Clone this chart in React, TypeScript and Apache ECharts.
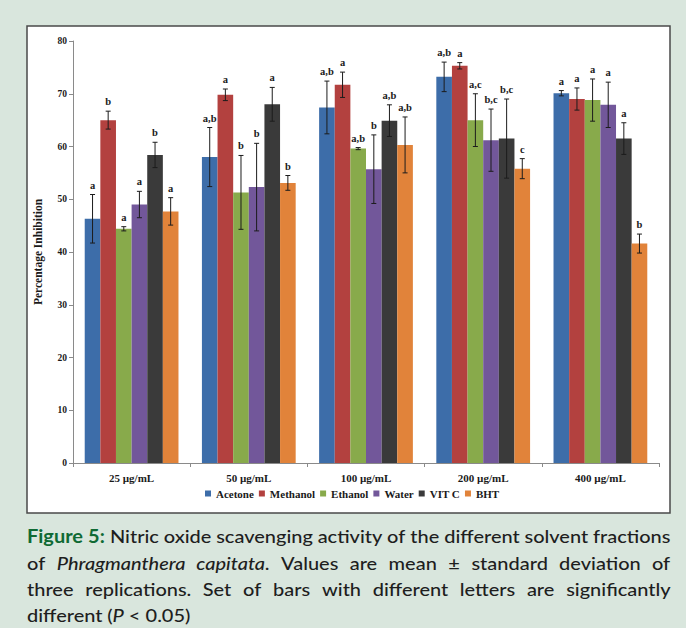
import React, { useEffect, useRef } from "react";
import * as echarts from "echarts";

const categories = ["25 µg/mL", "50 µg/mL", "100 µg/mL", "200 µg/mL", "400 µg/mL"];
const seriesNames = ["Acetone", "Methanol", "Ethanol", "Water", "VIT C", "BHT"];
const seriesColors = ["#3d6da9", "#b3413f", "#88aa4b", "#72579a", "#3a3a3a", "#e1833a"];

const acetone = [46.3, 58.0, 67.4, 73.2, 70.1];
const methanol = [65.0, 69.8, 71.7, 75.3, 69.0];
const ethanol = [44.4, 51.3, 59.6, 65.0, 68.8];
const water = [49.0, 52.3, 55.7, 61.2, 67.9];
const vitc = [58.4, 68.0, 64.9, 61.5, 61.5];
const bht = [47.7, 53.1, 60.3, 55.8, 41.6];

const acetoneSd = [4.6, 5.6, 5.0, 2.8, 0.5];
const methanolSd = [1.7, 1.1, 2.4, 0.6, 2.1];
const ethanolSd = [0.4, 7.0, 0.2, 5.0, 4.0];
const waterSd = [2.5, 8.3, 6.5, 5.9, 4.3];
const vitcSd = [2.4, 3.2, 3.0, 7.5, 3.0];
const bhtSd = [2.6, 1.4, 5.3, 1.9, 1.8];

const acetoneLetters = ["a", "a,b", "a,b", "a,b", "a"];
const methanolLetters = ["b", "a", "a", "a", "a"];
const ethanolLetters = ["a", "b", "a,b", "a,c", "a"];
const waterLetters = ["a", "b", "b", "b,c", "a"];
const vitcLetters = ["b", "a", "a,b", "b,c", "a"];
const bhtLetters = ["a", "b", "a,b", "c", "b"];

const yTicks = { min: 0, max: 80, interval: 10 };

const captionLines = [
  ["!Figure", "!5:", "Nitric", "oxide", "scavenging", "activity", "of", "the", "different", "solvent", "fractions"],
  ["of", "~Phragmanthera", "~capitata|.", "Values", "are", "mean", "±", "standard", "deviation", "of"],
  ["three", "replications.", "Set", "of", "bars", "with", "different", "letters", "are", "significantly"],
  ["different", "(|~P", "<", "0.05)"],
];

const values = [acetone, methanol, ethanol, water, vitc, bht];
const sds = [acetoneSd, methanolSd, ethanolSd, waterSd, vitcSd, bhtSd];
const letters = [acetoneLetters, methanolLetters, ethanolLetters, waterLetters, vitcLetters, bhtLetters];

const SERIF = "'Liberation Serif', 'Times New Roman', serif";
const CAP_FONT = "Lato";
const CAP_SIZE = 18;

function buildCaption() {
  const canvas = document.createElement("canvas");
  const ctx = canvas.getContext("2d")!;
  const segFont = (seg: string) => {
    const bold = seg.startsWith("!");
    const ital = seg.startsWith("~");
    const text = bold || ital ? seg.slice(1) : seg;
    return { text, bold, ital };
  };
  const measure = (text: string, bold: boolean, ital: boolean) => {
    ctx.font = `${ital ? "italic " : ""}${bold ? "bold " : ""}${CAP_SIZE}px ${CAP_FONT}`;
    return ctx.measureText(text).width;
  };
  const spaceW = measure(" ", false, false);
  const wordWidths = (line: string[]) =>
    line.map((w) => w.split("|").map(segFont).reduce((a, s) => a + measure(s.text, s.bold, s.ital), 0));
  const left = 27;
  const right = 670;
  const full = right - left;
  const l1 = wordWidths(captionLines[0]);
  const natural1 = l1.reduce((a, b) => a + b, 0) + spaceW * (l1.length - 1);
  const s = full / natural1;
  const ys = [536, 563, 589, 615];
  const elements: any[] = [];
  captionLines.forEach((line, li) => {
    const ww = wordWidths(line);
    const total = ww.reduce((a, b) => a + b, 0) * s;
    const last = li === captionLines.length - 1;
    const gap = last ? spaceW * s : (full - total) / (line.length - 1);
    let x = left;
    line.forEach((w, wi) => {
      let sx = x;
      w.split("|").map(segFont).forEach((sg) => {
        elements.push({
          type: "text",
          x: sx,
          y: ys[li],
          scaleX: s,
          silent: true,
          style: {
            text: sg.text,
            fontFamily: CAP_FONT,
            fontSize: CAP_SIZE,
            fontWeight: sg.bold ? "bold" : 500,
            fontStyle: sg.ital ? "italic" : "normal",
            fill: sg.bold ? "#0f6a34" : "#1e1e1e",
            verticalAlign: "middle",
            align: "left",
          },
        });
        sx += measure(sg.text, sg.bold, sg.ital) * s;
      });
      x += ww[wi] * s + gap;
    });
  });
  return elements;
}

export default function App() {
  const ref = useRef<HTMLDivElement>(null);
  useEffect(() => {
    if (!ref.current) return;
    const chart = echarts.init(ref.current, null, { renderer: "svg" });
    const nS = seriesNames.length;

    const barSeries = seriesNames.map((name, i) => ({
      name,
      type: "bar",
      data: values[i],
      barGap: "0%",
      barCategoryGap: "20%",
      itemStyle: { color: seriesColors[i] },
      z: 2,
    }));

    const errSeries = seriesNames.map((name, i) => ({
      name: name + " err",
      type: "custom",
      z: 4,
      silent: true,
      data: values[i].map((v, k) => [k, v, sds[i][k], letters[i][k]]),
      renderItem: (params: any, api: any) => {
        const idx = api.value(0);
        const mean = api.value(1);
        const sd = api.value(2);
        const letter = letters[i][idx];
        const base = api.coord([idx, mean]);
        const band = api.size([1, 0])[0];
        const barW = (band * 0.8) / nS;
        const cx = base[0] + (i - (nS - 1) / 2) * barW;
        const yTop = api.coord([idx, mean + sd])[1];
        const yBot = api.coord([idx, mean - sd])[1];
        const cap = 2.5;
        const ls = { stroke: "#1c1c1c", lineWidth: 1 };
        return {
          type: "group",
          children: [
            { type: "line", shape: { x1: cx, y1: yTop, x2: cx, y2: yBot }, style: ls },
            { type: "line", shape: { x1: cx - cap, y1: yTop, x2: cx + cap, y2: yTop }, style: ls },
            { type: "line", shape: { x1: cx - cap, y1: yBot, x2: cx + cap, y2: yBot }, style: ls },
            {
              type: "text",
              x: cx,
              y: yTop - 4,
              style: {
                text: letter,
                fontFamily: SERIF,
                fontWeight: "bold",
                fontSize: 10.5,
                fill: "#1a1a1a",
                align: "center",
                verticalAlign: "bottom",
              },
            },
          ],
        };
      },
    }));

    chart.setOption({
      animation: false,
      backgroundColor: "#d9e6dd",
      graphic: [
        {
          type: "rect",
          z: -10,
          silent: true,
          shape: { x: 27, y: 26, width: 643, height: 487 },
          style: { fill: "#ffffff", stroke: "#4a4a4a", lineWidth: 1.5 },
        },
        ...buildCaption(),
      ],
      grid: { left: 73, right: 27, top: 41, bottom: 165, containLabel: false },
      legend: {
        data: seriesNames,
        left: 200,
        top: 483,
        icon: "rect",
        itemWidth: 6,
        itemHeight: 6,
        itemGap: 5,
        textStyle: { fontFamily: SERIF, fontWeight: "bold", fontSize: 11, color: "#1a1a1a" },
      },
      xAxis: {
        type: "category",
        data: categories,
        axisLine: { lineStyle: { color: "#8a8a8a", width: 1 } },
        axisTick: { show: true, length: 4, lineStyle: { color: "#8a8a8a" } },
        axisLabel: { fontFamily: SERIF, fontWeight: "bold", fontSize: 11, color: "#1a1a1a", margin: 9 },
      },
      yAxis: {
        type: "value",
        min: yTicks.min,
        max: yTicks.max,
        interval: yTicks.interval,
        name: "Percentage Inhibition",
        nameLocation: "middle",
        nameGap: 29,
        nameTextStyle: { fontFamily: SERIF, fontWeight: "bold", fontSize: 11.5, color: "#1a1a1a" },
        axisLine: { show: true, lineStyle: { color: "#8a8a8a", width: 1 } },
        axisTick: { show: true, length: 4, lineStyle: { color: "#8a8a8a" } },
        splitLine: { show: false },
        axisLabel: { fontFamily: SERIF, fontWeight: "bold", fontSize: 9.5, color: "#1a1a1a", margin: 6 },
      },
      series: [...barSeries, ...errSeries],
    });
    return () => chart.dispose();
  }, []);
  return (
    <div
      ref={ref}
      style={{ position: "absolute", left: 0, top: 0, width: 686, height: 628 }}
    />
  );
}
